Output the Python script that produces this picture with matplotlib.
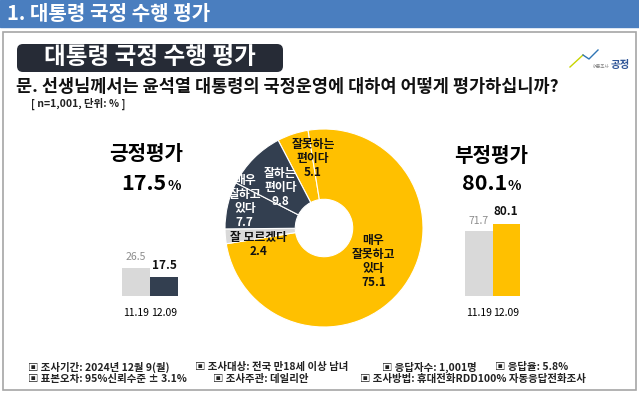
import matplotlib.pyplot as plt
from matplotlib.patches import Rectangle, FancyBboxPatch

plt.rcParams['font.family'] = ['Noto Sans CJK KR', 'DejaVu Sans']

# donut: clockwise from the top-left boundary
pie_labels = ['잘못하는\n편이다\n5.1', '매우\n잘못하고\n있다\n75.1', '잘 모르겠다\n2.4',
              '매우\n잘하고\n있다\n7.7', '잘하는\n편이다\n9.8']
pie_values = [5.1, 75.1, 2.4, 7.7, 9.8]

# trend bars
dates = ['11.19', '12.09']
pos_values = [26.5, 17.5]
neg_values = [71.7, 80.1]
pos_total = '17.5'
neg_total = '80.1'

footer1 = ['▣ 조사기간: 2024년 12월 9(월)', '▣ 조사대상: 전국 만18세 이상 남녀',
           '▣ 응답자수: 1,001명', '▣ 응답율: 5.8%']
footer2 = ['▣ 표본오차: 95%신뢰수준 ± 3.1%', '▣ 조사주관: 데일리안',
           '▣ 조사방법: 휴대전화RDD100% 자동응답전화조사']

YELLOW = '#FFC000'
NAVY = '#333F50'
GRAY = '#D9D9D9'

W, H = 639, 393
fig = plt.figure(figsize=(W / 100, H / 100), dpi=100)
fig.patch.set_facecolor('white')


def px_axes(x0, y0, x1, y1):
    # axes from pixel box (top-left origin)
    return fig.add_axes([x0 / W, 1 - y1 / H, (x1 - x0) / W, (y1 - y0) / H])


bg = fig.add_axes([0, 0, 1, 1])
bg.set_xlim(0, W)
bg.set_ylim(H, 0)
bg.axis('off')

# header bar
bg.add_patch(Rectangle((0, 0), W, 27, color='#4A7EBF'))
bg.text(7, 14, '1. 대통령 국정 수행 평가', color='white', fontsize=14.5,
        fontweight='bold', va='center', ha='left')

# panel
bg.add_patch(Rectangle((3, 32), 633, 358, facecolor='white', edgecolor='#A6A6A6', lw=1.2))

# title box
bg.add_patch(FancyBboxPatch((17, 44), 266, 28, boxstyle='round,pad=0,rounding_size=6',
                            facecolor='#262B36', edgecolor='none'))
bg.text(150, 57.5, '대통령 국정 수행 평가', color='white', fontsize=17,
        fontweight='bold', va='center', ha='center')

bg.text(16, 87, '문. 선생님께서는 윤석열 대통령의 국정운영에 대하여 어떻게 평가하십니까?',
        fontsize=12.6, fontweight='bold', va='center', ha='left', color='#111111')
bg.text(31, 104, '[ n=1,001, 단위: % ]', fontsize=7.5, fontweight='bold',
        va='center', ha='left', color='#222222')

# logo
bg.plot([570, 583], [67, 55], color='#C8D400', lw=1)
bg.plot([583, 589, 598], [55, 59, 50], color='#2F75B5', lw=1)
bg.text(601, 66, '여론조사', fontsize=3.2, color='#7F7F7F', va='center', ha='center')
bg.text(620, 65, '공정', fontsize=7.5, fontweight='bold', color='#2F5597',
        va='center', ha='center')

# headline numbers
bg.text(146, 154, '긍정평가', fontsize=14.5, fontweight='bold', ha='center', va='center')
bg.text(166, 190, pos_total, fontsize=15.5, fontweight='bold', ha='right', va='baseline')
bg.text(167, 190, '%', fontsize=10, fontweight='bold', ha='left', va='baseline')
bg.text(491, 155, '부정평가', fontsize=14.5, fontweight='bold', ha='center', va='center')
bg.text(507, 190, neg_total, fontsize=15.5, fontweight='bold', ha='right', va='baseline')
bg.text(508, 190, '%', fontsize=10, fontweight='bold', ha='left', va='baseline')

# footer
for txt, x in zip(footer1, [28, 195, 382, 495]):
    bg.text(x, 367, txt, fontsize=7.5, fontweight='bold', va='center', ha='left', color='#222222')
for txt, x in zip(footer2, [28, 213, 360]):
    bg.text(x, 379, txt, fontsize=7.5, fontweight='bold', va='center', ha='left', color='#222222')

# donut
ax = px_axes(225, 129, 423, 327)
wedges, _ = ax.pie(pie_values, colors=[YELLOW, YELLOW, GRAY, NAVY, NAVY],
                   startangle=117.6, counterclock=False, radius=1,
                   wedgeprops=dict(width=0.71, edgecolor='white', linewidth=0.8))
ax.set_xlim(-1, 1)
ax.set_ylim(-1, 1)
ax.set_aspect('equal')
label_xy = [(-0.11, 0.70), (0.50, -0.34), (-0.66, -0.17), (-0.80, 0.27), (-0.44, 0.41)]
label_col = ['#111111', '#111111', '#111111', 'white', 'white']
for lab, (lx, ly), c in zip(pie_labels, label_xy, label_col):
    ax.text(lx, ly, lab, ha='center', va='center', fontsize=8.5, fontweight='bold',
            color=c, linespacing=1.1)


def trend(x0, x1, vals, colors, scale, col_ref):
    bx = px_axes(x0, 196, x1, 296)
    bx.bar([0, 1], vals, width=1.0, color=colors)
    bx.set_xlim(-0.5, 1.5)
    bx.set_ylim(0, 100 / scale)
    for s in bx.spines.values():
        s.set_visible(False)
    bx.set_yticks([])
    bx.set_xticks([0, 1], dates)
    bx.tick_params(axis='x', length=0, pad=9, labelsize=7.5)
    bx.patch.set_alpha(0)
    bx.annotate(f'{vals[0]}', (0, vals[0]), xytext=(0, 4), textcoords='offset points',
                ha='center', va='bottom', fontsize=7.5, color='#8C8C8C')
    bx.annotate(f'{vals[1]}', (1, vals[1]), xytext=(0, 4), textcoords='offset points',
                ha='center', va='bottom', fontsize=8.5, fontweight='bold', color=col_ref)


trend(122, 178, pos_values, [GRAY, NAVY], 1.07, '#111111')
trend(465, 520, neg_values, [GRAY, YELLOW], 0.9, '#111111')

fig.savefig('out.png', dpi=100)
